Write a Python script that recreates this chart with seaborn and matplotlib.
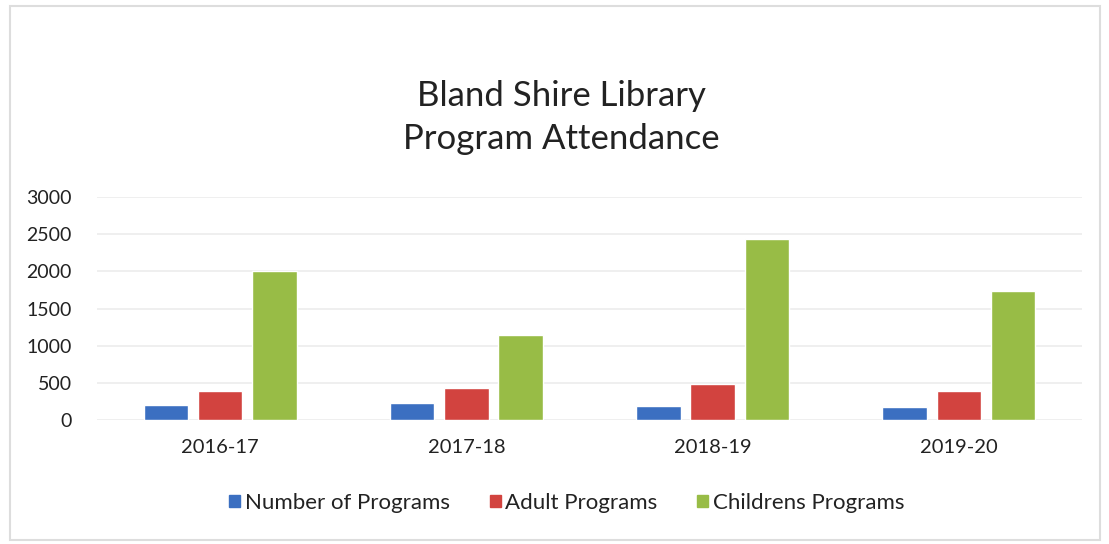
import numpy as np
import pandas as pd
import matplotlib.pyplot as plt
import matplotlib.patches as mpatches
import seaborn as sns

# values
years = ["2016-17", "2017-18", "2018-19", "2019-20"]
number_of_programs = [200, 230, 190, 175]
adult_programs = [390, 430, 490, 390]
childrens_programs = [2000, 1150, 2440, 1730]

series_names = ["Number of Programs", "Adult Programs", "Childrens Programs"]
colors = ["#3b6fc1", "#d2433f", "#98bc46"]

df = pd.DataFrame({
    "Year": years * 3,
    "Series": np.repeat(series_names, len(years)),
    "Value": number_of_programs + adult_programs + childrens_programs,
})

sns.set_theme(style="white")
plt.rcParams["font.family"] = ["Lato", "DejaVu Sans"]

fig = plt.figure(figsize=(11.09, 5.44), dpi=100)
ax = fig.add_axes([97 / 1109, 1 - 420 / 544, (1082 - 97) / 1109, (420 - 197) / 544])

sns.barplot(data=df, x="Year", y="Value", hue="Series", palette=colors,
            width=0.66, gap=0.18, ax=ax, legend=False, saturation=1)

ax.set_ylim(0, 3000)
ax.set_yticks(range(0, 3001, 500))
ax.yaxis.grid(True, color="#ececec", linewidth=1.2)
ax.set_axisbelow(True)
for s in ax.spines.values():
    s.set_visible(False)
ax.set_xlabel("")
ax.set_ylabel("")
ax.tick_params(axis="y", labelsize=14, colors="#222222", pad=18, length=0)
ax.tick_params(axis="x", labelsize=14.5, colors="#222222", pad=14, length=0)

fig.text(0.506, 1 - 96 / 544, "Bland Shire Library", ha="center", va="center",
         fontsize=25, color="#222222")
fig.text(0.506, 1 - 139 / 544, "Program Attendance", ha="center", va="center",
         fontsize=25, color="#222222")

handles = [mpatches.Patch(color=c, label=n) for c, n in zip(colors, series_names)]
fig.legend(handles=handles, loc="center", bbox_to_anchor=(0.511, 1 - 503 / 544),
           ncol=3, frameon=False, fontsize=16, handlelength=0.5, handleheight=0.5,
           handletextpad=0.2, columnspacing=1.8, labelcolor="#222222")

# scanned page frame
fig.patches.append(mpatches.Rectangle((10 / 1109, 4 / 544), 1090 / 1109, 534 / 544,
                                      transform=fig.transFigure, fill=False,
                                      edgecolor="#dddddd", linewidth=1.5))

fig.savefig("out.png", dpi=100)
